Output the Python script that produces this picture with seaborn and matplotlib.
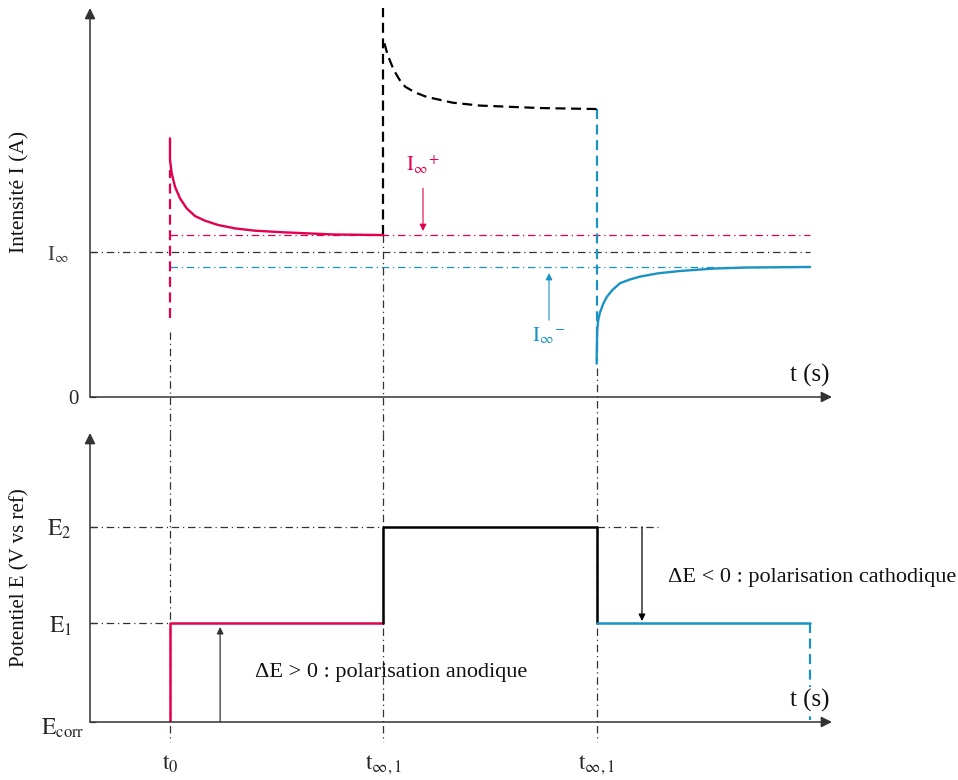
import matplotlib
matplotlib.use("Agg")
import matplotlib.pyplot as plt
import matplotlib.transforms as mtransforms
import seaborn as sns

# key instants (t0, t_inf1, t_inf1 second step, end of record)
t_marks = [1.5, 5.5, 9.5, 13.5]
t_labels = [r"$\mathrm{t}_0$", r"$\mathrm{t}_{\infty,1}$", r"$\mathrm{t}_{\infty,1}$"]

# current levels
I_inf = 1.0
I_plus = 1.117
I_minus = 0.897

# potential levels
E_levels = [0.0, 1.0, 1.98]
E_labels = [r"$\mathrm{E}_{\mathrm{corr}}$", r"$\mathrm{E}_1$", r"$\mathrm{E}_2$"]

# anodic transient (red)
red_t = [1.500, 1.500, 1.532, 1.594, 1.688, 1.813, 1.969, 2.156, 2.406, 2.719, 3.094, 3.625, 4.556, 5.500]
red_I = [1.784, 1.634, 1.543, 1.450, 1.370, 1.301, 1.248, 1.216, 1.186, 1.163, 1.147, 1.136, 1.121, 1.117]

# transient at E2 (black, dashed)
black_t = [5.52, 5.58, 5.69, 5.80, 5.91, 6.10, 6.31, 6.80, 7.31, 8.44, 9.50]
black_I = [2.44, 2.36, 2.26, 2.19, 2.14, 2.10, 2.07, 2.03, 2.01, 1.993, 1.986]

# cathodic transient (blue)
blue_t = [9.500, 9.505, 9.510, 9.530, 9.560, 9.620, 9.690, 9.800, 9.940, 10.12, 10.31, 10.65, 11.06, 11.70, 12.31, 13.50]
blue_I = [0.23, 0.35, 0.46, 0.53, 0.58, 0.64, 0.69, 0.74, 0.785, 0.81, 0.83, 0.853, 0.869, 0.886, 0.893, 0.897]

RED = "#E2004F"
BLUE = "#1A93C4"
GREY = "#333333"
DASHDOT = (0, (6, 3, 1, 3))
DASHED = (0, (4.5, 2.5))

sns.set_theme(style="white")
plt.rcParams["font.family"] = ["Liberation Serif", "DejaVu Serif"]
plt.rcParams["mathtext.fontset"] = "stix"

fig = plt.figure(figsize=(9.58, 7.80), dpi=100)
ax1 = fig.add_axes([90 / 958, 383 / 780, 742 / 958, 389 / 780])
ax2 = fig.add_axes([90 / 958, 58 / 780, 742 / 958, 289 / 780])

ax1.set_xlim(0, 13.913)
ax1.set_ylim(0, 2.683)
ax2.set_xlim(0, 13.913)
ax2.set_ylim(0, 2.934)


def shift(label, dx, dy=0):
    """move a tick label by dx, dy pixels"""
    off = mtransforms.ScaledTranslation(dx / 100, dy / 100, fig.dpi_scale_trans)
    label.set_transform(label.get_transform() + off)


for ax in (ax1, ax2):
    ax.set_facecolor("none")
    for s in ax.spines.values():
        s.set_visible(False)
    # axes drawn as arrows
    ax.annotate("", xy=(1, 0), xytext=(0, 0), xycoords="axes fraction",
                arrowprops=dict(arrowstyle="-|>", color=GREY, lw=1.1,
                                shrinkA=0, shrinkB=0, mutation_scale=16))
    ax.annotate("", xy=(0, 1), xytext=(0, 0), xycoords="axes fraction",
                arrowprops=dict(arrowstyle="-|>", color=GREY, lw=1.1,
                                shrinkA=0, shrinkB=0, mutation_scale=16))
    ax.tick_params(axis="y", direction="in", length=4, width=0.9, color=GREY,
                   left=True, pad=8)

# ---------------- top panel: current ----------------
t0, t1, t2, tend = t_marks

# guides
ax1.plot([0, tend], [I_inf, I_inf], ls=DASHDOT, color=GREY, lw=0.9)
ax1.plot([t0, tend], [I_plus, I_plus], ls=DASHDOT, color=RED, lw=0.9)
ax1.plot([t0, tend], [I_minus, I_minus], ls=DASHDOT, color=BLUE, lw=0.9)
ax1.plot([t0, t0], [0.45, -0.25], ls=DASHDOT, color=GREY, lw=0.9, clip_on=False)
ax1.plot([t1, t1], [I_plus, -0.25], ls=DASHDOT, color=GREY, lw=0.9, clip_on=False)
ax1.plot([t2, t2], [0.2, -0.25], ls=DASHDOT, color=GREY, lw=0.9, clip_on=False)

# vertical jumps (dashed)
ax1.plot([t0, t0], [0.545, 1.566], ls=DASHED, color=RED, lw=1.6)
ax1.plot([t1, t1], [I_plus, 2.683], ls=DASHED, color="black", lw=1.6, clip_on=False)
ax1.plot([t2, t2], [black_I[-1], 0.25], ls=DASHED, color=BLUE, lw=1.6)

# transients
sns.lineplot(x=red_t, y=red_I, ax=ax1, color=RED, lw=1.7, sort=False, estimator=None)
sns.lineplot(x=black_t, y=black_I, ax=ax1, color="black", lw=1.6, sort=False,
             estimator=None, linestyle=DASHED)
sns.lineplot(x=blue_t, y=blue_I, ax=ax1, color=BLUE, lw=1.7, sort=False, estimator=None)

# annotations
ax1.annotate("", xy=(6.244, 1.145), xytext=(6.244, 1.44),
             arrowprops=dict(arrowstyle="-|>", color=RED, lw=0.8, shrinkA=0, shrinkB=0,
                             mutation_scale=10))
ax1.text(6.244, 1.60, r"$\mathrm{I}_{\infty}{}^{+}$", color=RED, fontsize=15,
         ha="center", va="center")
ax1.annotate("", xy=(8.607, 0.855), xytext=(8.607, 0.53),
             arrowprops=dict(arrowstyle="-|>", color=BLUE, lw=0.8, shrinkA=0, shrinkB=0,
                             mutation_scale=10))
ax1.text(8.607, 0.42, r"$\mathrm{I}_{\infty}{}^{-}$", color=BLUE, fontsize=15,
         ha="center", va="center")

ax1.text(13.5, 0.15, "t (s)", fontsize=18, ha="center", va="center", color="#111111")

ax1.set_xticks([])
ax1.set_yticks([0, I_inf])
ax1.set_yticklabels(["0", r"$\mathrm{I}_{\infty}$"], fontsize=15)
ax1.get_yticklabels()[1].set_color("#444444")
shift(ax1.get_yticklabels()[1], -10)
ax1.set_ylabel("Intensité I (A)", fontsize=15.5, color="#111111")
ax1.yaxis.set_label_coords(-0.081, 0.527)

# ---------------- bottom panel: potential ----------------
E0, E1, E2 = E_levels

ax2.plot([0, t0], [E1, E1], ls=DASHDOT, color=GREY, lw=0.9)
ax2.plot([0, t1], [E2, E2], ls=DASHDOT, color=GREY, lw=0.9)
ax2.plot([t2, t2 + 1.15], [E2, E2], ls=DASHDOT, color=GREY, lw=0.9)
for t in (t0, t1, t2):
    ax2.plot([t, t], [2.934, -0.2], ls=DASHDOT, color=GREY, lw=0.9, clip_on=False)

sns.lineplot(x=[t0, t0, t1], y=[E0, E1, E1], ax=ax2, color=RED, lw=1.8,
             sort=False, estimator=None)
sns.lineplot(x=[t1, t1, t2, t2], y=[E1, E2, E2, E1], ax=ax2, color="black", lw=1.8,
             sort=False, estimator=None)
sns.lineplot(x=[t2, tend], y=[E1, E1], ax=ax2, color=BLUE, lw=1.8,
             sort=False, estimator=None)
ax2.plot([tend, tend], [E1, 0.02], ls=DASHED, color=BLUE, lw=1.6)

ax2.annotate("", xy=(2.44, 0.965), xytext=(2.44, 0.0),
             arrowprops=dict(arrowstyle="-|>", color=GREY, lw=0.9, shrinkA=0, shrinkB=0,
                             mutation_scale=10))
ax2.annotate("", xy=(10.35, 1.025), xytext=(10.35, 1.98),
             arrowprops=dict(arrowstyle="-|>", color="black", lw=0.9, shrinkA=0, shrinkB=0,
                             mutation_scale=10))
ax2.text(3.09, 0.50, "ΔE > 0 : polarisation anodique", fontsize=16, ha="left",
         va="center", color="#111111")
ax2.text(10.84, 1.47, "ΔE < 0 : polarisation cathodique", fontsize=16, ha="left",
         va="center", color="#111111")
ax2.text(13.5, 0.22, "t (s)", fontsize=18, ha="center", va="center", color="#111111",
         bbox=dict(facecolor="white", edgecolor="none", pad=1))

ax2.set_yticks(E_levels)
ax2.set_yticklabels(E_labels, fontsize=17)
ylabs = ax2.get_yticklabels()
shift(ylabs[0], 6, -4)
shift(ylabs[1], -7)
shift(ylabs[2], -7)
ax2.set_xticks(t_marks[:3])
ax2.set_xticklabels(t_labels, fontsize=17)
ax2.tick_params(axis="x", length=0, pad=22)
ax2.set_ylabel("Potentiel E (V vs ref)", fontsize=15, color="#111111")
ax2.yaxis.set_label_coords(-0.081, 0.50)

fig.savefig("out.png", dpi=100)
